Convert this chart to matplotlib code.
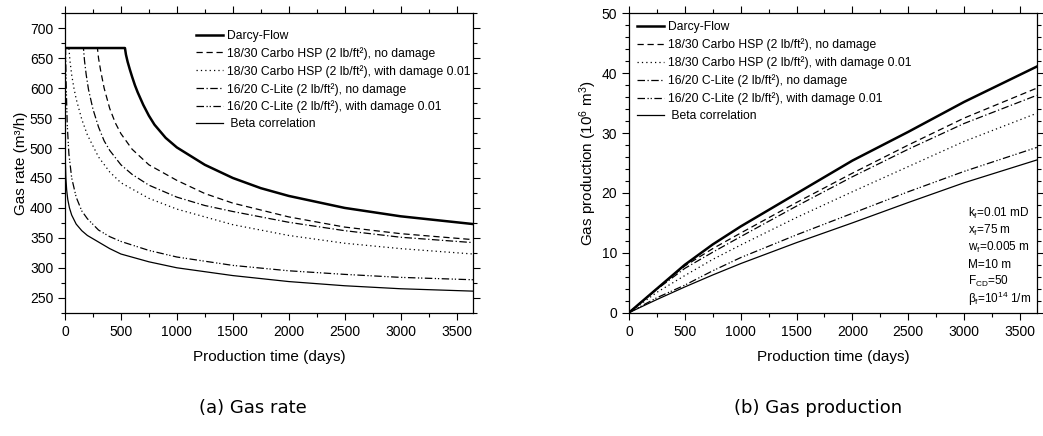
#! /usr/bin/env python3

import numpy as np
import matplotlib.pyplot as plt
from matplotlib.ticker import MultipleLocator

plt.rcParams['font.family'] = ['Liberation Sans', 'DejaVu Sans']
plt.rcParams['mathtext.fontset'] = 'custom'
plt.rcParams['mathtext.rm'] = 'Liberation Sans'
plt.rcParams['mathtext.it'] = 'Liberation Sans:italic'
plt.rcParams['mathtext.default'] = 'regular'

# (a) gas rate, m3/h
t_darcy = [0, 536, 545, 560, 580, 600, 625, 650, 700, 750, 800, 900, 1000,
           1250, 1500, 1750, 2000, 2500, 3000, 3650]
q_darcy = [667, 667, 656, 644, 631, 619, 605, 593, 572, 554, 539, 517, 501,
           472, 450, 433, 420, 400, 386, 373]

t_hsp = [0, 290, 300, 320, 350, 400, 450, 500, 600, 750, 1000, 1250, 1500,
         2000, 2500, 3000, 3650]
q_hsp = [667, 667, 650, 628, 600, 566, 542, 524, 498, 472, 446, 424, 408,
         385, 368, 357, 347]

t_hsp_dmg = [0, 35, 45, 60, 80, 100, 150, 200, 300, 400, 500, 750, 1000,
             1500, 2000, 2500, 3000, 3650]
q_hsp_dmg = [667, 667, 645, 622, 600, 582, 548, 522, 485, 460, 442, 416, 398,
             372, 354, 341, 332, 323]

t_lite = [0, 165, 175, 190, 210, 250, 300, 350, 400, 500, 600, 750, 1000,
          1250, 1500, 2000, 2500, 3000, 3650]
q_lite = [667, 667, 645, 622, 598, 565, 535, 512, 496, 472, 456, 438, 418,
          404, 394, 376, 362, 351, 342]

t_lite_dmg = [0, 5, 10, 20, 35, 60, 100, 150, 200, 300, 400, 500, 750, 1000,
              1500, 2000, 2500, 3000, 3650]
q_lite_dmg = [667, 667, 610, 540, 490, 450, 418, 395, 382, 363, 352, 344,
              329, 318, 304, 295, 289, 284, 280]

t_beta = [0, 3, 8, 15, 25, 40, 60, 100, 150, 200, 300, 400, 500, 750, 1000,
          1500, 2000, 2500, 3000, 3650]
q_beta = [667, 480, 450, 430, 414, 400, 388, 373, 362, 354, 343, 332, 323,
          310, 300, 287, 277, 270, 265, 261]

# (b) cumulative production, 10^6 m3
t_cum = [0, 250, 500, 750, 1000, 1500, 2000, 2500, 3000, 3650]
g_darcy = [0, 4.0, 8.0, 11.4, 14.4, 19.9, 25.4, 30.2, 35.2, 41.1]
g_hsp = [0, 4.0, 7.8, 10.7, 13.3, 18.4, 23.3, 28.0, 32.5, 37.5]
g_hsp_dmg = [0, 3.4, 6.2, 8.9, 11.3, 15.9, 20.2, 24.4, 28.6, 33.3]
g_lite = [0, 3.9, 7.4, 10.1, 12.7, 17.8, 22.7, 27.3, 31.6, 36.3]
g_lite_dmg = [0, 2.5, 4.6, 7.0, 9.2, 13.0, 16.6, 20.2, 23.6, 27.6]
g_beta = [0, 2.2, 4.3, 6.3, 8.2, 11.7, 15.0, 18.4, 21.7, 25.5]

labels = ['Darcy-Flow',
          '18/30 Carbo HSP (2 lb/ft²), no damage',
          '18/30 Carbo HSP (2 lb/ft²), with damage 0.01',
          '16/20 C-Lite (2 lb/ft²), no damage',
          '16/20 C-Lite (2 lb/ft²), with damage 0.01',
          ' Beta correlation']
styles = [dict(ls='-', lw=1.8),
          dict(ls=(0, (5, 3)), lw=0.9),
          dict(ls=(0, (1, 2.5)), lw=0.9),
          dict(ls=(0, (6, 2, 1, 2)), lw=0.9),
          dict(ls=(0, (6, 2, 1, 1.5, 1, 2)), lw=0.9),
          dict(ls='-', lw=0.9)]

fig = plt.figure(figsize=(10.43, 4.36), dpi=100)
ax1 = fig.add_axes([0.0623, 0.2828, 0.3915, 0.6867])
ax2 = fig.add_axes([0.603, 0.2828, 0.391, 0.6867])

rates = [(t_darcy, q_darcy), (t_hsp, q_hsp), (t_hsp_dmg, q_hsp_dmg),
         (t_lite, q_lite), (t_lite_dmg, q_lite_dmg), (t_beta, q_beta)]
for (t, q), lab, st in zip(rates, labels, styles):
    ax1.plot(t, q, color='black', label=lab, **st)

cums = [g_darcy, g_hsp, g_hsp_dmg, g_lite, g_lite_dmg, g_beta]
for g, lab, st in zip(cums, labels, styles):
    ax2.plot(t_cum, g, color='black', label=lab, **st)

for ax in (ax1, ax2):
    ax.set_xlim(0, 3650)
    ax.xaxis.set_major_locator(MultipleLocator(500))
    ax.xaxis.set_minor_locator(MultipleLocator(250))
    ax.tick_params(which='both', direction='out', top=True, right=True,
                   labeltop=False, labelright=False, labelsize=10, width=0.8)
    ax.tick_params(which='major', length=5)
    ax.tick_params(which='minor', length=3)
    ax.set_xlabel('Production time (days)', fontsize=11, labelpad=8)
    for s in ax.spines.values():
        s.set_linewidth(0.9)

leg_kw = dict(frameon=False, fontsize=8.7, handlelength=2.25,
              handletextpad=0.35, labelspacing=0.42, borderaxespad=0.0,
              borderpad=0.3)

ax1.set_ylim(225, 725)
ax1.yaxis.set_major_locator(MultipleLocator(50))
ax1.yaxis.set_minor_locator(MultipleLocator(25))
ax1.set_ylabel('Gas rate (m³/h)', fontsize=11, labelpad=1)
ax1.legend(loc='upper right', bbox_to_anchor=(1.002, 0.957), **leg_kw)

ax2.set_ylim(0, 50)
ax2.yaxis.set_major_locator(MultipleLocator(10))
ax2.yaxis.set_minor_locator(MultipleLocator(2))
ax2.set_ylabel('Gas production (10$^6$ m$^3$)', fontsize=11, labelpad=2)
ax2.legend(loc='upper left', bbox_to_anchor=(0.01, 0.985), **leg_kw)

params = ['k$_f$=0.01 mD', 'x$_f$=75 m', 'w$_f$=0.005 m', 'M=10 m',
          'F$_{CD}$=50', 'β$_f$=10$^{14}$ 1/m']
for i, p in enumerate(params):
    ax2.text(0.831, 0.333 - i * 0.0574, p, transform=ax2.transAxes,
             ha='left', va='center', fontsize=8.5)

fig.text(0.242, 0.064, '(a) Gas rate', ha='center', va='center',
         fontsize=13, family='DejaVu Sans')
fig.text(0.784, 0.064, '(b) Gas production', ha='center', va='center',
         fontsize=13, family='DejaVu Sans')

fig.savefig('out.png', dpi=100)
